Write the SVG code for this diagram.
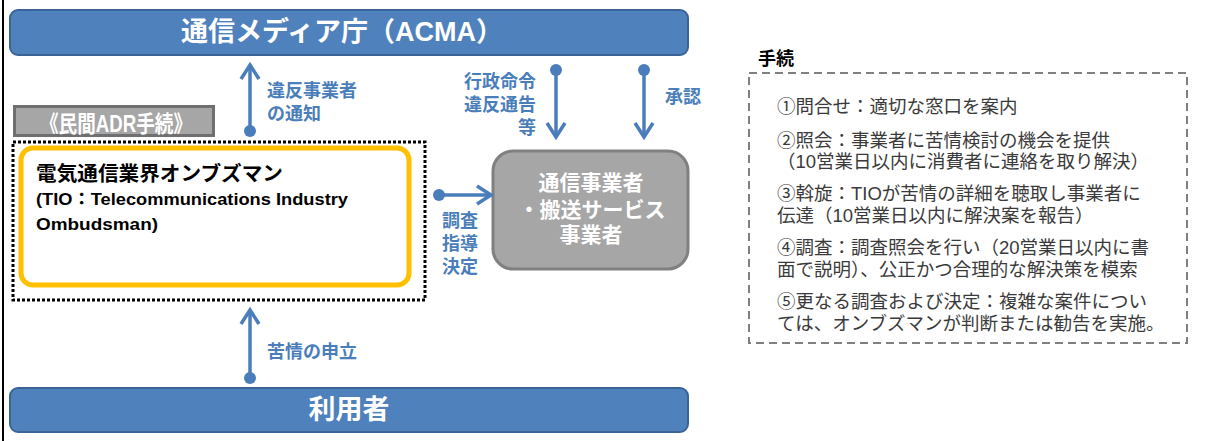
<svg xmlns="http://www.w3.org/2000/svg" width="1205" height="441" viewBox="0 0 1205 441">
<style>
  .jp { font-family: "Liberation Sans", "Noto Sans CJK JP", sans-serif; }
  .bar { fill: #4f81bd; stroke: #3a6496; stroke-width: 2; }
  .bartext { fill: #ffffff; font-weight: 700; text-anchor: middle; }
  .lbl { fill: #4a7ebb; font-weight: 700; font-size: 18px; }
  .body { fill: #3a3a3a; font-size: 18.5px; }
  .conn { stroke: #4a7ebb; stroke-width: 3.5; fill: none; marker-start: url(#dot); marker-end: url(#ah); }
</style>
<defs>
  <marker id="ah" viewBox="-20 -12 24 24" refX="0" refY="0" markerWidth="24" markerHeight="24" markerUnits="userSpaceOnUse" orient="auto">
    <path d="M-14,-9 L0,0 L-14,9" fill="none" stroke="#4a7ebb" stroke-width="3.5" stroke-linejoin="miter"/>
  </marker>
  <marker id="dot" viewBox="-8 -8 16 16" refX="0" refY="0" markerWidth="16" markerHeight="16" markerUnits="userSpaceOnUse" orient="auto">
    <circle cx="0" cy="0" r="6" fill="#4a7ebb"/>
  </marker>
</defs>
<rect width="1205" height="441" fill="#ffffff"/>
<line x1="3" y1="0" x2="3" y2="441" stroke="#000" stroke-width="2"/>

<g id="acma">
  <rect class="bar" x="10" y="10" width="678" height="45" rx="8"/>
  <text class="jp bartext" x="342" y="41" font-size="27">通信メディア庁（ACMA）</text>
</g>

<g id="users">
  <rect class="bar" x="10" y="388" width="678" height="44" rx="8"/>
  <text class="jp bartext" x="349" y="419" font-size="27">利用者</text>
</g>

<g id="adr-label">
  <rect x="13" y="105" width="202" height="32" fill="#6f6f6f"/>
  <rect x="16" y="108" width="196" height="26" fill="#a6a6a6"/>
  <text class="jp" x="40" y="132" font-size="23" font-weight="700" fill="#ffffff" textLength="152" lengthAdjust="spacingAndGlyphs">《民間ADR手続》</text>
</g>

<g id="adr-group">
  <rect x="13" y="142" width="412" height="158" fill="none" stroke="#000" stroke-width="3" stroke-dasharray="3 2"/>
</g>

<g id="tio">
  <rect x="21" y="148" width="388" height="137" rx="12" fill="#ffffff" stroke="#ffc000" stroke-width="5"/>
  <text class="jp" x="36" y="181" font-size="20" font-weight="700" fill="#000" textLength="247" lengthAdjust="spacingAndGlyphs">電気通信業界オンブズマン</text>
  <text class="jp" font-size="17" font-weight="700" fill="#000"><tspan x="36" y="205" textLength="312" lengthAdjust="spacingAndGlyphs">(TIO：Telecommunications Industry</tspan><tspan x="36" y="230" textLength="122" lengthAdjust="spacingAndGlyphs">Ombudsman)</tspan></text>
</g>

<g id="carriers">
  <rect x="493" y="151" width="195" height="118" rx="20" fill="#a6a6a6" stroke="#808080" stroke-width="3"/>
  <text class="jp" font-size="21" font-weight="700" fill="#ffffff" text-anchor="middle"><tspan x="591" y="190">通信事業者</tspan><tspan x="592" y="217">・搬送サービス</tspan><tspan x="591" y="242">事業者</tspan></text>
</g>

<g id="connectors">
  <line class="conn" x1="250" y1="131" x2="250" y2="65"/>
  <line class="conn" x1="556" y1="70" x2="556" y2="137"/>
  <line class="conn" x1="644" y1="70" x2="644" y2="137"/>
  <line class="conn" x1="439" y1="195" x2="491" y2="195"/>
  <line class="conn" x1="250" y1="378" x2="250" y2="310"/>
  <g class="jp lbl">
    <text><tspan x="267" y="97">違反事業者</tspan><tspan x="267" y="120">の通知</tspan></text>
    <text text-anchor="end"><tspan x="536" y="88">行政命令</tspan><tspan x="536" y="111">違反通告</tspan><tspan x="536" y="134">等</tspan></text>
    <text x="665" y="103">承認</text>
    <text><tspan x="442" y="227">調査</tspan><tspan x="442" y="250">指導</tspan><tspan x="442" y="273">決定</tspan></text>
    <text x="267" y="358">苦情の申立</text>
  </g>
</g>

<g id="procedure">
  <text class="jp" x="758" y="65" font-size="18" font-weight="700" fill="#000">手続</text>
  <rect x="749" y="73" width="438" height="270" fill="none" stroke="#808080" stroke-width="2" stroke-dasharray="8 5"/>
  <g class="jp body">
    <text x="777" y="113">①問合せ：適切な窓口を案内</text>
    <text><tspan x="777" y="147">②照会：事業者に苦情検討の機会を提供</tspan><tspan x="777" y="168">（10営業日以内に消費者に連絡を取り解決）</tspan></text>
    <text><tspan x="777" y="200">③斡旋：TIOが苦情の詳細を聴取し事業者に</tspan><tspan x="777" y="222">伝達（10営業日以内に解決案を報告）</tspan></text>
    <text><tspan x="777" y="254">④調査：調査照会を行い（20営業日以内に書</tspan><tspan x="777" y="276">面で説明）、公正かつ合理的な解決策を模索</tspan></text>
    <text><tspan x="777" y="308">⑤更なる調査および決定：複雑な案件につい</tspan><tspan x="777" y="330">ては、オンブズマンが判断または勧告を実施。</tspan></text>
  </g>
</g>
</svg>
